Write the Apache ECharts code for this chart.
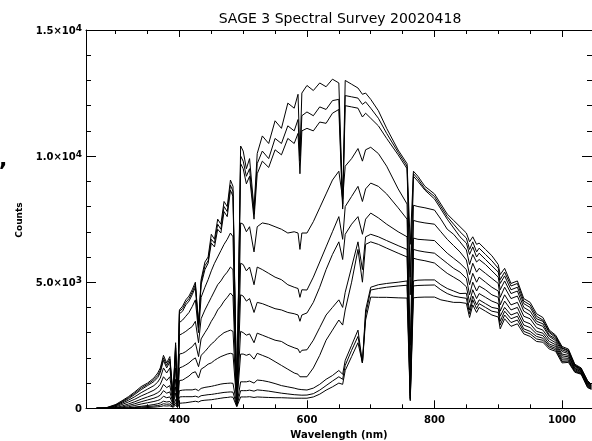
<!DOCTYPE html>
<html>
<head>
<meta charset="utf-8">
<script src="https://cdn.jsdelivr.net/npm/echarts@6/dist/echarts.min.js"></script>
<style>
html,body{margin:0;padding:0;background:#fff;}
#chart{width:592px;height:441px;}
</style>
</head>
<body>
<div id="chart"></div>
<script>
// ---- DATA ----
const wavelengths = [
  270,285,300,310,320,330,340,350,360,366,
  370,375,380,385,390,394,397,400,405,410,
  415,420,425,430,434,440,445,450,455,460,
  465,470,475,480,484,490,496,500,505,510,
  517,522,530,540,550,560,570,580,586,589,
  592,600,610,620,630,640,650,656,660,670,
  680,687,692,700,712,725,743,757,762,767,
  774,785,800,810,820,830,840,850,855,860,
  866,870,880,890,900,903,910,920,930,940,
  950,960,970,980,990,1000,1010,1020,1030,1040,
  1046];

const spectrum1 = [
  0,20,150,300,460,650,860,1000,1200,1400,
  1600,2100,1800,2050,500,2600,300,3900,4050,4300,
  4450,4700,5000,3300,5100,5800,6000,6900,6700,7500,
  7300,8200,8000,9050,8800,200,10400,10200,9500,9900,
  7900,10100,10800,10500,11400,11100,12100,11900,12450,10000,
  12500,12800,12600,12900,12750,13050,12900,8100,13000,12850,
  12700,12450,12500,12250,11800,11100,10240,9700,6500,9400,
  9200,8800,8500,8100,7700,7450,7200,6950,6600,6800,
  6500,6550,6300,6050,5700,5300,5550,4950,5050,4350,
  4200,3750,3600,3100,2900,2450,2350,1750,1600,1100,
  950];
const spectrum2 = [
  0,15,130,270,420,600,800,950,1130,1300,
  1500,2000,1700,1950,480,2500,300,3850,3950,4200,
  4350,4600,4900,3300,5000,5650,5850,6700,6550,7300,
  7100,8000,7800,8850,8600,200,10000,9800,9200,9500,
  7700,9700,10200,9900,10700,10500,11200,11000,11450,9800,
  11600,11750,11600,11950,11850,12200,12250,8000,12400,12350,
  12300,12050,12150,11900,11500,10900,10150,9600,5200,9300,
  9100,8700,8400,8000,7600,7300,7000,6750,6300,6600,
  6200,6350,6100,5850,5550,5100,5400,4850,4950,4250,
  4100,3650,3500,3050,2850,2400,2300,1720,1570,1080,
  930];
const spectrum3 = [
  0,10,110,240,380,550,740,900,1060,1220,
  1420,1900,1600,1850,450,2400,280,3750,3850,4100,
  4250,4500,4800,3200,4900,5500,5750,6550,6400,7100,
  6950,7800,7600,8650,8400,200,9700,9500,8900,9200,
  7500,9300,9800,9550,10250,10050,10700,10500,10900,9300,
  11000,11100,11000,11350,11300,11700,11850,7900,12000,11950,
  11900,11550,11700,11500,11200,10700,10050,9500,4500,9200,
  9000,8650,8300,7900,7500,7150,6800,6550,6100,6400,
  6000,6150,5900,5650,5400,4950,5250,4700,4800,4150,
  4000,3550,3450,3000,2800,2380,2270,1700,1550,1060,
  910];
const spectrum4 = [
  0,5,90,200,320,460,620,760,900,1040,
  1200,1600,1400,1600,400,2100,250,3400,3500,3650,
  3800,4030,4300,3000,4400,4800,5100,5450,5750,6000,
  6250,6500,6700,6950,6800,200,7350,7300,7000,7200,
  6200,7200,7350,7300,7200,7100,6950,7000,6950,6300,
  6950,6950,7400,7950,8500,9050,9400,8300,9600,9900,
  10300,9800,10250,10350,10100,9600,8700,8100,2500,8050,
  8000,7950,7860,7500,7100,6900,6600,6280,5700,6100,
  5800,5900,5700,5450,5200,4700,5050,4550,4650,4000,
  3850,3450,3350,2900,2750,2320,2220,1680,1530,1030,
  890];
const spectrum5 = [
  0,0,60,150,250,360,490,600,720,830,
  950,1250,1100,1250,320,1600,200,2900,2970,3050,
  3150,3240,3450,2600,3550,3900,4150,4400,4650,4900,
  5050,5250,5400,5600,5500,200,5750,5700,5450,5600,
  4900,5600,5500,5350,5200,5100,4900,4800,4750,4400,
  4700,4690,5200,5800,6400,7000,7600,6700,8000,8400,
  8800,8200,8700,8930,8800,8500,7950,7500,1500,7450,
  7400,7350,7300,7000,6700,6450,6200,5880,5300,5750,
  5400,5550,5350,5150,4950,4400,4800,4350,4450,3850,
  3700,3350,3250,2850,2680,2250,2170,1650,1500,1000,
  870];
const spectrum6 = [
  0,0,30,90,170,260,360,450,540,620,
  700,950,820,900,250,1150,150,2150,2180,2250,
  2350,2440,2600,2050,2750,3000,3200,3450,3650,3900,
  4050,4250,4400,4570,4450,200,4500,4450,4250,4350,
  3800,4200,4150,4050,3950,3900,3800,3750,3700,3450,
  3700,3780,4200,4800,5500,6100,6600,5900,6900,7300,
  7600,6900,7500,7740,7550,7300,7000,6800,900,6750,
  6700,6680,6650,6400,6150,5950,5750,5500,4900,5350,
  5000,5200,5000,4800,4650,4100,4500,4100,4200,3650,
  3550,3200,3100,2750,2600,2150,2100,1600,1480,970,
  850];
const spectrum7 = [
  0,0,10,50,110,180,260,330,400,460,
  520,700,600,650,200,850,120,1600,1650,1720,
  1800,1915,2000,1650,2100,2250,2400,2550,2650,2800,
  2900,3000,3050,3100,3050,180,3050,3000,2900,2950,
  2600,2980,2900,2800,2700,2650,2500,2400,2350,2200,
  2300,2320,2700,3200,3700,4000,4300,4000,4600,5600,
  6600,5500,6800,6900,6800,6650,6450,6300,600,6300,
  6250,6200,6150,5950,5750,5550,5400,5150,4500,5000,
  4650,4850,4700,4500,4400,3850,4250,3900,4000,3450,
  3350,3050,2980,2650,2520,2080,2040,1570,1450,940,
  830];
const spectrum8 = [
  0,0,0,20,60,110,170,220,270,310,
  350,480,420,450,150,600,100,1100,1120,1200,
  1280,1400,1450,1200,1550,1650,1750,1800,1900,1980,
  2050,2100,2150,2180,2150,150,2150,2150,2100,2150,
  1950,2180,2100,2000,1850,1700,1550,1400,1350,1250,
  1300,1250,1600,2100,2700,3100,3500,3300,3900,5000,
  6300,5000,6500,6600,6500,6350,6150,6000,500,5950,
  5900,5850,5760,5550,5350,5200,5050,4820,4200,4700,
  4350,4550,4400,4250,4150,3650,4000,3700,3800,3300,
  3200,2950,2880,2550,2450,2000,1980,1530,1420,910,
  810];
const spectrum9 = [
  0,0,0,0,20,50,80,110,150,180,
  210,280,250,270,100,350,80,700,720,730,
  730,730,760,700,790,830,850,870,900,930,
  960,980,990,1000,990,120,1050,1050,1050,1080,
  1000,1120,1100,1050,980,900,850,800,760,720,
  740,725,800,950,1150,1300,1500,1350,1900,2500,
  3100,1800,3900,4800,4900,4950,5000,5050,400,5050,
  5080,5090,5090,4900,4750,4650,4550,4560,3900,4450,
  4100,4300,4150,4000,3950,3450,3850,3550,3650,3150,
  3050,2850,2780,2480,2380,1920,1920,1490,1390,880,
  790];
const spectrum10 = [
  0,0,0,0,10,30,50,70,90,110,
  130,180,160,170,60,220,50,450,460,460,
  460,460,480,440,500,520,540,550,570,590,
  610,630,640,650,640,90,700,700,700,720,
  680,730,710,680,640,600,570,540,530,500,
  520,525,580,720,900,1080,1250,1150,1700,2300,
  2850,1800,3700,4690,4750,4800,4850,4880,350,4850,
  4870,4880,4890,4700,4550,4450,4400,4360,3750,4300,
  3950,4150,4000,3850,3800,3300,3700,3400,3500,3050,
  2950,2750,2700,2420,2320,1860,1870,1460,1370,850,
  770];
const spectrum11 = [
  0,0,0,0,0,10,20,30,45,60,
  70,100,90,100,40,130,30,200,210,220,
  240,260,280,250,300,320,330,340,360,380,
  400,420,430,450,440,60,450,450,450,460,
  430,450,440,430,420,420,410,400,400,380,
  400,400,450,560,720,850,1000,950,1500,2050,
  2600,1800,3500,4410,4400,4400,4380,4370,300,4380,
  4400,4410,4410,4300,4250,4200,4200,4160,3600,4100,
  3800,4000,3850,3700,3620,3150,3550,3250,3350,2950,
  2850,2650,2620,2350,2260,1800,1820,1430,1350,820,
  750];

const xMajorTicks = [400, 600, 800, 1000];
const xMinorTicks = [300, 350, 450, 500, 550, 650, 700, 750, 850, 900, 950];
const yTickValues = [0, 5000, 10000, 15000];
const yTickMantissa = ['0', '5.0', '1.0', '1.5'];
const yTickExponent = ['', '3', '4', '4'];
const titleText = 'SAGE 3 Spectral Survey 20020418';
const xAxisTitle = 'Wavelength (nm)';
const yAxisTitle = 'Counts';

// ---- CHART ----
const spectra = [spectrum1, spectrum2, spectrum3, spectrum4, spectrum5, spectrum6,
                 spectrum7, spectrum8, spectrum9, spectrum10, spectrum11];
const FONT = '"DejaVu Sans", "Liberation Sans", sans-serif';
const X_MIN = 253.5, X_MAX = 1047;

function xAxisDef(position, ticks, len, showLine, showLabel) {
  return {
    type: 'value', position: position, min: X_MIN, max: X_MAX,
    axisLine: { show: showLine, onZero: false, lineStyle: { color: '#000', width: 1 } },
    axisTick: { show: true, inside: true, length: len, customValues: ticks,
                lineStyle: { color: '#000', width: 1 } },
    axisLabel: { show: showLabel, customValues: ticks, margin: 7,
                 formatter: function (v) { return String(v); },
                 fontFamily: FONT, fontSize: 10, fontWeight: 'bold', color: '#000' },
    splitLine: { show: false }
  };
}
function yAxisDef(position, showLabel) {
  return {
    type: 'value', position: position, min: 0, max: 15000, interval: 5000,
    axisLine: { show: true, onZero: false, lineStyle: { color: '#000', width: 1 } },
    axisTick: { show: true, inside: true, length: 10, lineStyle: { color: '#000', width: 1 } },
    minorTick: { show: true, splitNumber: 5, length: 5, lineStyle: { color: '#000', width: 1 } },
    splitLine: { show: false }, minorSplitLine: { show: false },
    axisLabel: {
      show: showLabel, margin: 4, color: '#000',
      formatter: function (v) {
        const i = yTickValues.indexOf(v);
        if (i < 0) return '';
        if (!yTickExponent[i]) return '{m|' + yTickMantissa[i] + '}';
        return '{m|' + yTickMantissa[i] + '×10}{e|' + yTickExponent[i] + '}';
      },
      rich: {
        m: { fontFamily: FONT, fontSize: 10, fontWeight: 'bold', color: '#000',
             lineHeight: 12, verticalAlign: 'bottom' },
        e: { fontFamily: FONT, fontSize: 9, fontWeight: 'bold', color: '#000',
             lineHeight: 10, padding: [0, 0, 8, 0], verticalAlign: 'top' }
      }
    }
  };
}

const chart = echarts.init(document.getElementById('chart'), null, { renderer: 'canvas' });
chart.setOption({
  animation: false,
  backgroundColor: '#fff',
  grid: { left: 86, top: 30, right: -3.4, bottom: 32.7, containLabel: false },
  xAxis: [
    xAxisDef('bottom', xMajorTicks, 8, true, true),
    xAxisDef('bottom', xMinorTicks, 4, false, false),
    xAxisDef('top', xMajorTicks, 7, true, false),
    xAxisDef('top', xMinorTicks, 4, false, false)
  ],
  yAxis: [yAxisDef('left', true), yAxisDef('right', false)],
  graphic: [
    { type: 'text', x: 340, y: 19, style: { text: titleText, font: '14px ' + FONT,
      fill: '#000', textAlign: 'center', textVerticalAlign: 'middle' } },
    { type: 'text', x: 339, y: 435, style: { text: xAxisTitle, font: 'bold 10px ' + FONT,
      fill: '#000', textAlign: 'center', textVerticalAlign: 'middle' } },
    { type: 'text', x: 20, y: 220, rotation: Math.PI / 2, style: { text: yAxisTitle,
      font: 'bold 9px ' + FONT, fill: '#000', textAlign: 'center', textVerticalAlign: 'middle' } },
    { type: 'text', x: -1, y: 160, style: { text: ',', font: 'bold 22px ' + FONT,
      fill: '#000', textAlign: 'left', textVerticalAlign: 'middle' } }
  ],
  series: spectra.map(function (s) {
    return {
      type: 'line', xAxisIndex: 0, yAxisIndex: 0, showSymbol: false, silent: true,
      lineStyle: { color: '#000', width: 1 },
      data: wavelengths.map(function (w, i) { return [w, s[i]]; })
    };
  })
});
</script>
</body>
</html>
